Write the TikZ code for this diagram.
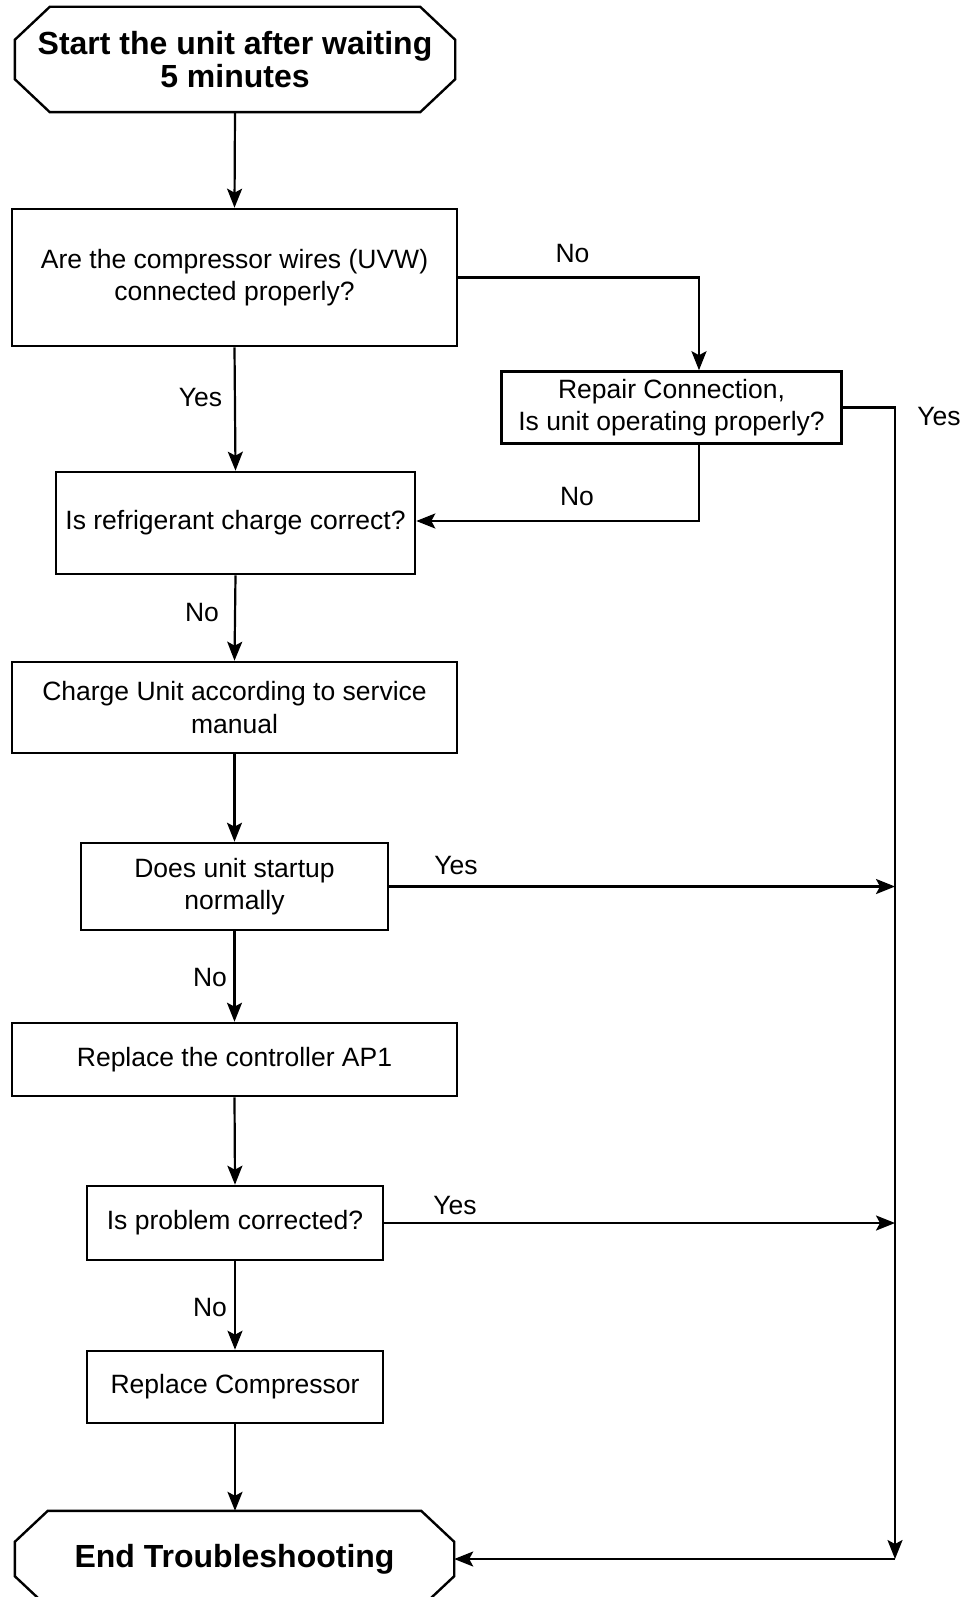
\documentclass[tikz,border=0pt]{standalone}
\usepackage{fontspec}
\setmainfont{Liberation Sans}
\usetikzlibrary{arrows.meta,calc}
\begin{document}
\begin{tikzpicture}[x=1pt,y=-1pt,
  every node/.style={font=\fontsize{26.5}{32.5}\selectfont},
  boxnode/.style={draw,line width=2.6pt,inner sep=0pt,align=center},
  octnode/.style={inner sep=0pt,align=center,font=\bfseries\fontsize{32}{32.5}\selectfont},
  oct/.style={line width=2.4pt,line join=miter},
  conn/.style={line width=2.2pt,-{Stealth[length=19pt,width=15pt,inset=4pt]}},
  lbl/.style={inner sep=0pt}]
\useasboundingbox (0,0) rectangle (979,1597);
\clip (0,0) rectangle (979,1597);
% nodes
\node[octnode,minimum width=440pt,minimum height=103pt] (start) at (235,59.5) {Start the unit after waiting\\5 minutes};
\draw[oct] ([xshift=35pt,yshift=1pt]start.north west) -- ([xshift=-35pt,yshift=1pt]start.north east)
  -- ([yshift=-32pt]start.north east) -- ([yshift=32pt]start.south east)
  -- ([xshift=-35pt,yshift=-1pt]start.south east) -- ([xshift=35pt,yshift=-1pt]start.south west)
  -- ([yshift=32pt]start.south west) -- ([yshift=-32pt]start.north west) -- cycle;
\node[boxnode,minimum width=445pt,minimum height=137pt] (wires) at (234.5,277.5) {Are the compressor wires (UVW)\\connected properly?};
\node[boxnode,minimum width=340pt,minimum height=72pt] (repair) at (671.5,407.5) {Repair Connection,\\Is unit operating properly?};
\node[boxnode,minimum width=359pt,minimum height=102pt] (refr) at (235.5,523) {Is refrigerant charge correct?};
\node[boxnode,minimum width=445pt,minimum height=91pt] (charge) at (234.5,707.5) {Charge Unit according to service\\manual};
\node[boxnode,minimum width=307pt,minimum height=87pt] (does) at (234.5,886.5) {Does unit startup\\normally};
\node[boxnode,minimum width=445pt,minimum height=73pt] (ap1) at (234.5,1059.5) {Replace the controller AP1};
\node[boxnode,minimum width=296pt,minimum height=74pt] (prob) at (235,1223) {Is problem corrected?};
\node[boxnode,minimum width=296pt,minimum height=72pt] (comp) at (235,1387) {Replace Compressor};
\node[octnode,minimum width=439pt,minimum height=96pt] (end) at (234.5,1559) {End Troubleshooting};
\draw[oct] ([xshift=33pt]end.north west) -- ([xshift=-33pt]end.north east)
  -- ([yshift=-31pt]end.north east) -- ([yshift=31pt]end.south east)
  -- ([xshift=-33pt]end.south east) -- ([xshift=33pt]end.south west)
  -- ([yshift=31pt]end.south west) -- ([yshift=-31pt]end.north west) -- cycle;
% helper coordinates
\coordinate (nocol) at (699,0);
\coordinate (rcol) at (895,0);
\coordinate (corner) at (895,1559);
% main column
\draw[conn] (start.south) -- (wires.north);
\draw[conn] (wires.south) -- (refr.north);
\draw[conn] (refr.south) -- (charge.north);
\draw[conn] (charge.south) -- (does.north);
\draw[conn] (does.south) -- (ap1.north);
\draw[conn] (ap1.south) -- (prob.north);
\draw[conn] (prob.south) -- (comp.north);
\draw[conn] (comp.south) -- ([xshift=0.5pt]end.north);
% side branches
\draw[conn] (wires.east) -| (nocol |- repair.north);
\draw[conn] (nocol |- repair.south) |- ([yshift=2pt]refr.east);
\draw[conn] (repair.east) -| (corner);
\draw[conn] (corner) -- (end.east);
\draw[conn] (does.east) -- (does.east -| rcol);
\draw[conn] (prob.east) -- (prob.east -| rcol);
% labels
\node[lbl] (l1) at (200.5,398) {Yes};
\node[lbl] (l2) at (572.5,254) {No};
\node[lbl] (l3) at (577,497) {No};
\node[lbl] (l4) at (939,417) {Yes};
\node[lbl] (l5) at (456,866) {Yes};
\node[lbl] (l6) at (455,1205) {Yes};
\node[lbl] (l7) at (202,613) {No};
\node[lbl] (l8) at (210,978) {No};
\node[lbl] (l9) at (210,1307) {No};
\end{tikzpicture}
\end{document}
